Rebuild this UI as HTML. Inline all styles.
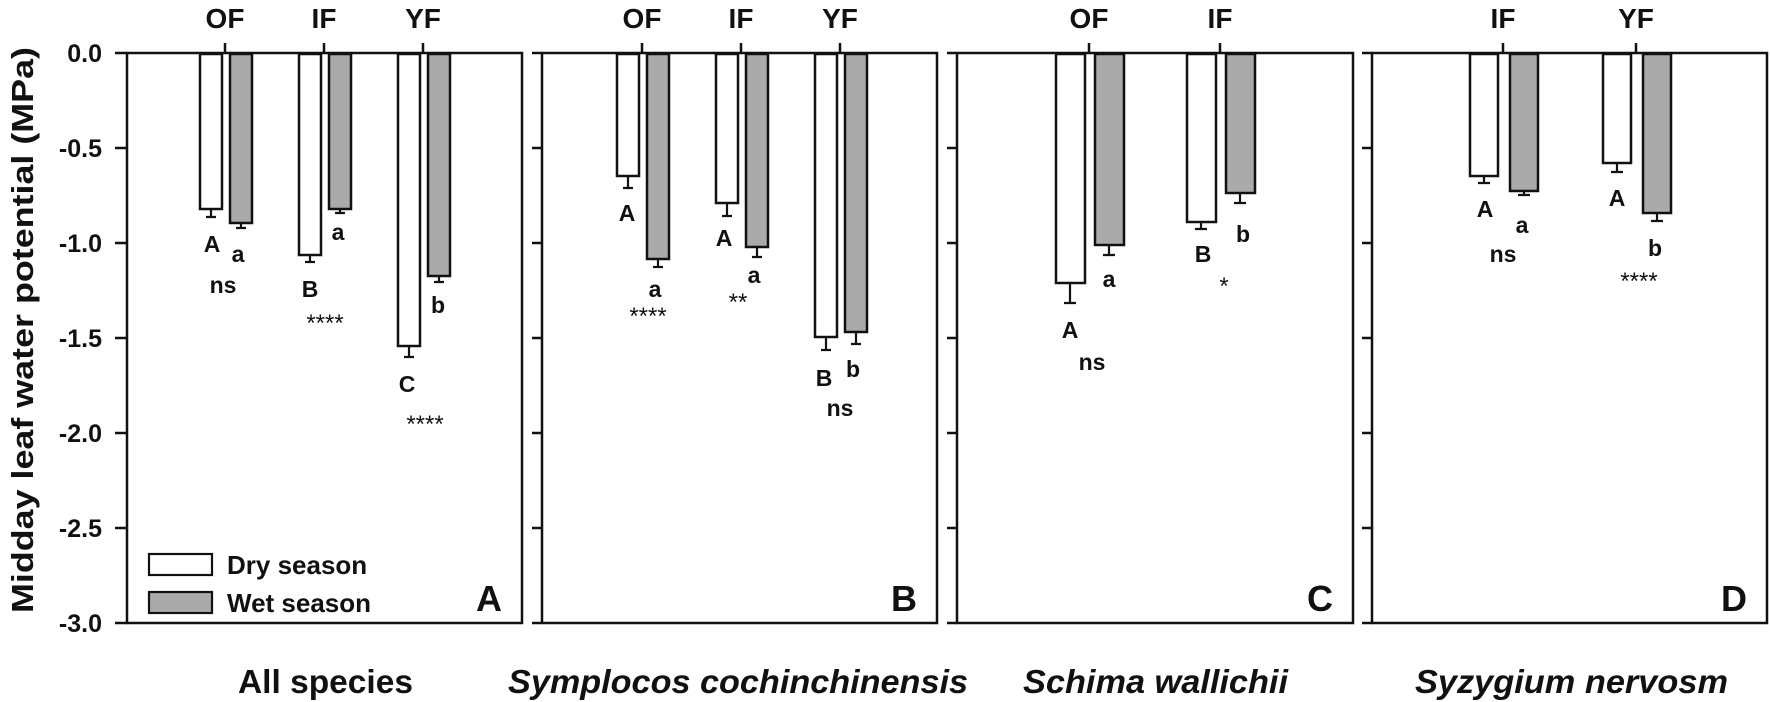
<!DOCTYPE html>
<html><head><style>html,body{margin:0;padding:0;background:#fff}svg{display:block}</style></head><body>
<svg width="1770" height="702" viewBox="0 0 1770 702" xmlns="http://www.w3.org/2000/svg" font-family="Liberation Sans, Arial, sans-serif">
<g stroke="#111" stroke-width="2.5" fill="none">
<rect x="127" y="53" width="395" height="570"/>
<rect x="542" y="53" width="395" height="570"/>
<rect x="957" y="53" width="396" height="570"/>
<rect x="1372" y="53" width="395" height="570"/>
<path d="M115 53H127M115 148H127M115 243H127M115 338H127M115 433H127M115 528H127M115 623H127"/>
<path d="M532 53H542M532 148H542M532 243H542M532 338H542M532 433H542M532 528H542M532 623H542"/>
<path d="M947 53H957M947 148H957M947 243H957M947 338H957M947 433H957M947 528H957M947 623H957"/>
<path d="M1362 53H1372M1362 148H1372M1362 243H1372M1362 338H1372M1362 433H1372M1362 528H1372M1362 623H1372"/>
<path d="M225 53V43M324 53V43M423 53V43M642 53V43M741 53V43M840 53V43M1089 53V43M1220 53V43M1503 53V43M1636 53V43"/>
</g>
<g stroke="#111" stroke-width="2.5">
<rect x="200" y="54" width="22" height="155" fill="#fff"/><rect x="230" y="54" width="22" height="169" fill="#aaa"/>
<rect x="299" y="54" width="22" height="201" fill="#fff"/><rect x="329" y="54" width="22" height="155" fill="#aaa"/>
<rect x="398" y="54" width="22" height="292" fill="#fff"/><rect x="428" y="54" width="22" height="222" fill="#aaa"/>
<rect x="617" y="54" width="22" height="122" fill="#fff"/><rect x="647" y="54" width="22" height="205" fill="#aaa"/>
<rect x="716" y="54" width="22" height="149" fill="#fff"/><rect x="746" y="54" width="22" height="193" fill="#aaa"/>
<rect x="815" y="54" width="22" height="283" fill="#fff"/><rect x="845" y="54" width="22" height="278" fill="#aaa"/>
<rect x="1056" y="54" width="29" height="229" fill="#fff"/><rect x="1095" y="54" width="29" height="191" fill="#aaa"/>
<rect x="1187" y="54" width="29" height="168" fill="#fff"/><rect x="1226" y="54" width="29" height="139" fill="#aaa"/>
<rect x="1470" y="54" width="28" height="122" fill="#fff"/><rect x="1510" y="54" width="28" height="137" fill="#aaa"/>
<rect x="1603" y="54" width="28" height="109" fill="#fff"/><rect x="1643" y="54" width="28" height="159" fill="#aaa"/>
</g>
<g stroke="#111" stroke-width="2.2" fill="none">
<path d="M211 209V217M206 217H216M241 223V228M236 228H246M310 255V262M305 262H315M340 209V213M335 213H345M409 346V357M404 357H414M439 276V282M434 282H444"/>
<path d="M628 176V188M623 188H633M658 259V267M653 267H663M727 203V216M722 216H732M757 247V257M752 257H762M826 337V350M821 350H831M856 332V344M851 344H861"/>
<path d="M1070 283V303M1064 303H1076M1109 245V255M1103 255H1115M1201 222V229M1195 229H1207M1240 193V203M1234 203H1246"/>
<path d="M1484 176V183M1478 183H1490M1524 191V195M1518 195H1530M1617 163V172M1611 172H1623M1657 213V221M1651 221H1663"/>
</g>
<g font-weight="bold" fill="#111" font-size="23" text-anchor="middle">
<text x="212" y="252">A</text><text x="238" y="262">a</text><text x="223" y="293">ns</text>
<text x="310" y="297">B</text><text x="338" y="240">a</text>
<text x="407" y="392">C</text><text x="438" y="313">b</text>
<text x="627" y="221">A</text><text x="655" y="297">a</text>
<text x="724" y="246">A</text><text x="754" y="283">a</text>
<text x="824" y="386">B</text><text x="853" y="377">b</text><text x="840" y="416">ns</text>
<text x="1070" y="338">A</text><text x="1109" y="287">a</text><text x="1092" y="370">ns</text>
<text x="1203" y="262">B</text><text x="1243" y="242">b</text>
<text x="1485" y="217">A</text><text x="1522" y="233">a</text><text x="1503" y="262">ns</text>
<text x="1617" y="206">A</text><text x="1655" y="256">b</text>
</g>
<g fill="#111" font-size="24" text-anchor="middle">
<text x="325" y="331">****</text><text x="425" y="432">****</text>
<text x="648" y="324">****</text><text x="738" y="310">**</text>
<text x="1224" y="294">*</text><text x="1639" y="289">****</text>
</g>
<g font-weight="bold" fill="#111" font-size="28" text-anchor="middle">
<text x="225" y="28">OF</text><text x="324" y="28">IF</text><text x="423" y="28">YF</text>
<text x="642" y="28">OF</text><text x="741" y="28">IF</text><text x="840" y="28">YF</text>
<text x="1089" y="28">OF</text><text x="1220" y="28">IF</text>
<text x="1503" y="28">IF</text><text x="1636" y="28">YF</text>
</g>
<g font-weight="bold" fill="#111" font-size="25" text-anchor="end">
<text x="102" y="62">0.0</text><text x="102" y="157">-0.5</text><text x="102" y="252">-1.0</text>
<text x="102" y="347">-1.5</text><text x="102" y="442">-2.0</text><text x="102" y="537">-2.5</text><text x="102" y="632">-3.0</text>
</g>
<text transform="translate(33,330) rotate(-90)" text-anchor="middle" font-weight="bold" font-size="31" fill="#111" textLength="566" lengthAdjust="spacingAndGlyphs">Midday leaf water potential (MPa)</text>
<rect x="149" y="554" width="63" height="21" fill="#fff" stroke="#111" stroke-width="2.2"/>
<rect x="149" y="592" width="63" height="21" fill="#aaa" stroke="#111" stroke-width="2.2"/>
<text x="227" y="574" font-weight="bold" font-size="26" fill="#111">Dry season</text>
<text x="227" y="612" font-weight="bold" font-size="26" fill="#111">Wet season</text>
<g font-weight="bold" fill="#111" font-size="36" text-anchor="end">
<text x="502" y="611">A</text><text x="917" y="611">B</text><text x="1333" y="611">C</text><text x="1747" y="611">D</text>
</g>
<g font-weight="bold" fill="#111" font-size="33">
<text x="238" y="693" textLength="175" lengthAdjust="spacingAndGlyphs">All species</text>
<text x="508" y="693" font-style="italic" textLength="460" lengthAdjust="spacingAndGlyphs">Symplocos cochinchinensis</text>
<text x="1023" y="693" font-style="italic" textLength="265" lengthAdjust="spacingAndGlyphs">Schima wallichii</text>
<text x="1415" y="693" font-style="italic" textLength="313" lengthAdjust="spacingAndGlyphs">Syzygium nervosm</text>
</g>
</svg>
</body></html>
